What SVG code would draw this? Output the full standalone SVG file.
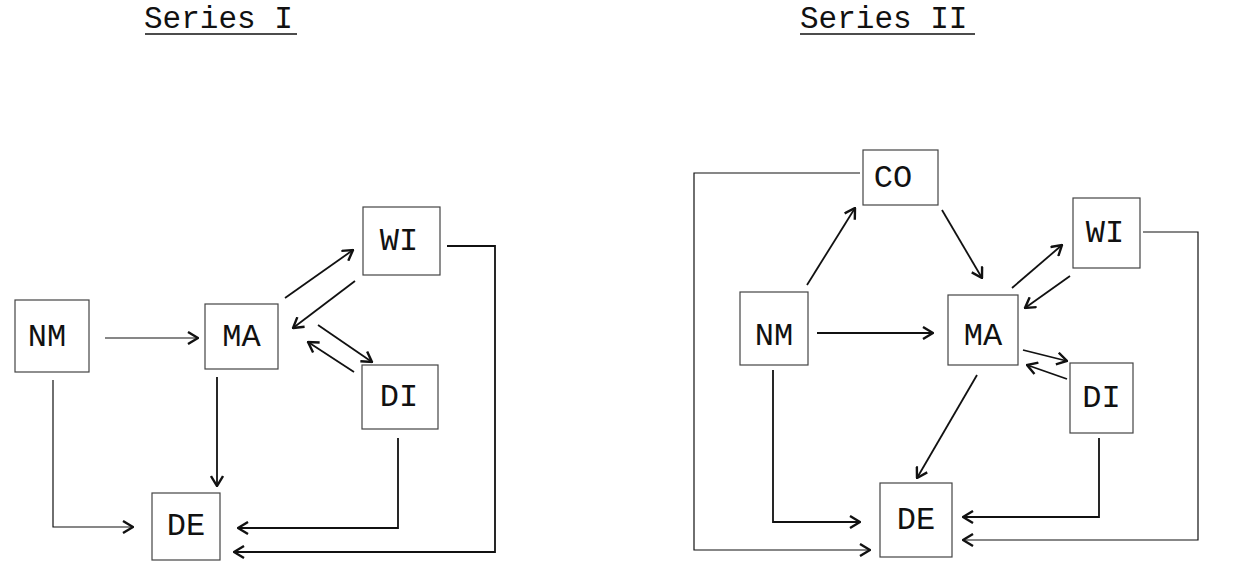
<svg xmlns="http://www.w3.org/2000/svg" width="1254" height="562" viewBox="0 0 1254 562">
<style>
.box{fill:#fff;stroke:#444;stroke-width:1.2}
.lbl{font-family:"Liberation Mono","Courier New",monospace;font-size:32px;fill:#111;text-anchor:middle;dominant-baseline:central}
.title{font-family:"Liberation Mono","Courier New",monospace;font-size:31px;fill:#111}
.c{fill:none;stroke:#111;stroke-width:1.8}
.thin{stroke-width:1.2}
</style>
<defs>
<marker id="ah" viewBox="0 0 12 14" refX="11" refY="7" markerWidth="12" markerHeight="14" markerUnits="userSpaceOnUse" orient="auto">
<path d="M1,1 L11,7 L1,13" fill="none" stroke="#111" stroke-width="2.4"/>
</marker>
</defs>
<rect width="1254" height="562" fill="#fff"/>
<g id="titles">
<text class="title" x="144" y="28">Series I</text>
<line x1="145" y1="34" x2="297" y2="34" stroke="#111" stroke-width="1.5"/>
<text class="title" x="800" y="28">Series II</text>
<line x1="800" y1="34" x2="975" y2="34" stroke="#111" stroke-width="1.5"/>
</g>
<g id="connectors">
<!-- Series I -->
<line class="c thin" x1="105" y1="338" x2="198" y2="338" marker-end="url(#ah)"/>
<line class="c" x1="217" y1="377" x2="217" y2="486" marker-end="url(#ah)"/>
<polyline class="c thin" points="53,380 53,527 133,527" marker-end="url(#ah)"/>
<polyline class="c" points="398,438 398,528 238,528" marker-end="url(#ah)"/>
<polyline class="c" points="447,246 495,246 495,552 234,552" marker-end="url(#ah)"/>
<line class="c" x1="285" y1="298" x2="353" y2="250" marker-end="url(#ah)"/>
<line class="c" x1="355" y1="281" x2="293" y2="328" marker-end="url(#ah)"/>
<line class="c" x1="318" y1="325" x2="372" y2="362" marker-end="url(#ah)"/>
<line class="c" x1="354" y1="372" x2="308" y2="342" marker-end="url(#ah)"/>
<!-- Series II -->
<polyline class="c thin" points="860,173 694,173 694,550 870,550" marker-end="url(#ah)"/>
<line class="c" x1="807" y1="285" x2="855" y2="208" marker-end="url(#ah)"/>
<line class="c" x1="942" y1="210" x2="982" y2="278" marker-end="url(#ah)"/>
<line class="c" x1="817" y1="333" x2="933" y2="333" marker-end="url(#ah)"/>
<line class="c" x1="1012" y1="288" x2="1062" y2="245" marker-end="url(#ah)"/>
<line class="c" x1="1070" y1="276" x2="1025" y2="308" marker-end="url(#ah)"/>
<line class="c" x1="1023" y1="350" x2="1067" y2="361" marker-end="url(#ah)"/>
<line class="c" x1="1067" y1="379" x2="1027" y2="365" marker-end="url(#ah)"/>
<line class="c" x1="977" y1="375" x2="917" y2="478" marker-end="url(#ah)"/>
<polyline class="c" points="773,370 773,522 860,522" marker-end="url(#ah)"/>
<polyline class="c" points="1099,438 1099,517 963,517" marker-end="url(#ah)"/>
<polyline class="c thin" points="1143,232 1198,232 1198,540 963,540" marker-end="url(#ah)"/>
</g>
<!-- Series I nodes -->
<g id="s1-NM"><rect class="box" x="15" y="300" width="74" height="72"/><text class="lbl" x="47" y="337">NM</text></g>
<g id="s1-MA"><rect class="box" x="205" y="304" width="73" height="65"/><text class="lbl" x="241.5" y="337">MA</text></g>
<g id="s1-WI"><rect class="box" x="363" y="207" width="77" height="68"/><text class="lbl" x="399" y="241">WI</text></g>
<g id="s1-DI"><rect class="box" x="362" y="365" width="76" height="64"/><text class="lbl" x="399" y="397">DI</text></g>
<g id="s1-DE"><rect class="box" x="152" y="493" width="68" height="67"/><text class="lbl" x="186" y="526">DE</text></g>
<!-- Series II nodes -->
<g id="s2-CO"><rect class="box" x="863" y="150" width="75" height="55"/><text class="lbl" x="893" y="178">CO</text></g>
<g id="s2-WI"><rect class="box" x="1073" y="198" width="67" height="70"/><text class="lbl" x="1105" y="233">WI</text></g>
<g id="s2-NM"><rect class="box" x="740" y="292" width="68" height="73"/><text class="lbl" x="774" y="336">NM</text></g>
<g id="s2-MA"><rect class="box" x="948" y="295" width="70" height="70"/><text class="lbl" x="983" y="336">MA</text></g>
<g id="s2-DI"><rect class="box" x="1070" y="363" width="63" height="70"/><text class="lbl" x="1101.5" y="398">DI</text></g>
<g id="s2-DE"><rect class="box" x="880" y="483" width="72" height="74"/><text class="lbl" x="916" y="520">DE</text></g>
</svg>
